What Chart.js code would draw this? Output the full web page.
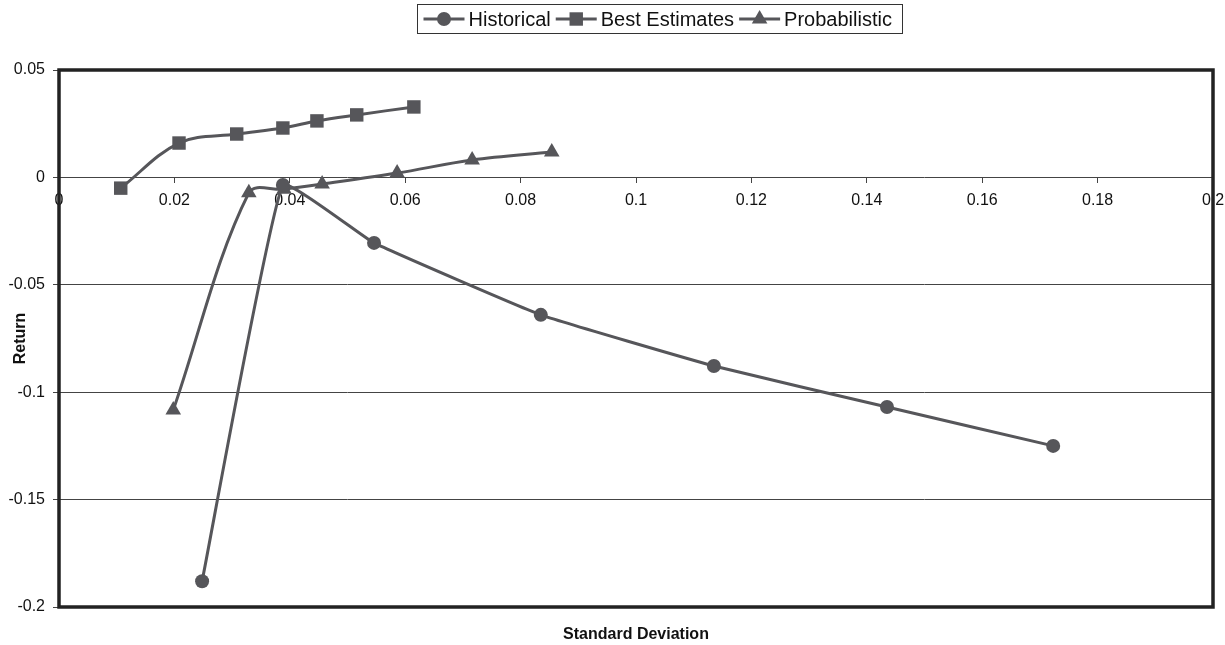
<!DOCTYPE html>
<html>
<head>
<meta charset="utf-8">
<title>Return vs Standard Deviation</title>
<script src="https://cdn.jsdelivr.net/npm/chart.js@4.4.1/dist/chart.umd.min.js"></script>
<style>
  html, body { margin: 0; padding: 0; background: #fff; }
</style>
</head>
<body>
<canvas id="chart" width="1225" height="645"></canvas>
<script>
// values (x = standard deviation, y = return)
const historicalSd = [0.0248, 0.0388, 0.0546, 0.0835, 0.1135, 0.1435, 0.1723];
const historicalRet = [-0.188, -0.0035, -0.0305, -0.064, -0.0878, -0.1069, -0.125];

const bestSd = [0.0107, 0.0208, 0.0308, 0.0388, 0.0447, 0.0516, 0.0615];
const bestRet = [-0.005, 0.016, 0.0202, 0.023, 0.0263, 0.0291, 0.0328];

const probSd = [0.0198, 0.0329, 0.039, 0.0456, 0.0586, 0.0716, 0.0854];
const probRet = [-0.1083, -0.0072, -0.0055, -0.0031, 0.002, 0.0081, 0.0118];

const seriesNames = ['Historical', 'Best Estimates', 'Probabilistic'];
const xTicksRange = [0, 0.2, 0.02];
const yTicksRange = [-0.2, 0.05, 0.05];

const FONT = 'Arial, "Liberation Sans", sans-serif';
const ink = '#56565a';

const toPoints = (xs, ys) => xs.map((x, i) => ({ x: x, y: ys[i] }));
const fmt = v => String(Number(v.toFixed(3)));

const makeSeries = (label, xs, ys, style, radius, tension) => ({
    label: label,
    data: toPoints(xs, ys),
    showLine: true,
    tension: tension,
    borderColor: ink,
    borderWidth: 3,
    backgroundColor: ink,
    pointStyle: style,
    pointRadius: radius,
    pointHoverRadius: radius,
    pointBorderWidth: 0
});

// box around the plot and the boxed legend on top
const frameAndLegend = {
    id: 'frameAndLegend',
    afterDraw(chart) {
        const ctx = chart.ctx;
        const a = chart.chartArea;
        ctx.save();
        ctx.strokeStyle = '#222';
        ctx.lineWidth = 3.5;
        ctx.strokeRect(a.left, a.top, a.right - a.left, a.bottom - a.top);

        const sets = chart.data.datasets;
        ctx.font = '20px ' + FONT;
        const lineLen = 41, gap = 4, itemGap = 5, padL = 6, padR = 11;
        const widths = sets.map(ds => ctx.measureText(ds.label).width);
        let total = padL + padR + itemGap * (sets.length - 1);
        widths.forEach(w => { total += lineLen + gap + w; });
        const boxX = Math.round(660 - total / 2) + 0.5;
        const boxY = 4.5, boxH = 29;
        ctx.lineWidth = 1;
        ctx.strokeStyle = '#333';
        ctx.strokeRect(boxX, boxY, Math.round(total), boxH);

        let x = boxX + padL;
        const cy = boxY + boxH / 2;
        sets.forEach((ds, i) => {
            ctx.strokeStyle = ink;
            ctx.fillStyle = ink;
            ctx.lineWidth = 3;
            ctx.beginPath();
            ctx.moveTo(x, cy);
            ctx.lineTo(x + lineLen, cy);
            ctx.stroke();
            Chart.helpers.drawPoint(ctx, {
                pointStyle: ds.pointStyle, radius: ds.pointRadius, rotation: 0, borderWidth: 0
            }, x + lineLen / 2, cy);
            x += lineLen + gap;
            ctx.fillStyle = '#111';
            ctx.textBaseline = 'middle';
            ctx.textAlign = 'left';
            ctx.fillText(ds.label, x, cy + 1);
            x += widths[i] + itemGap;
        });
        ctx.restore();
    }
};

const ctx = document.getElementById('chart').getContext('2d');
new Chart(ctx, {
    type: 'scatter',
    data: {
        datasets: [
            makeSeries(seriesNames[0], historicalSd, historicalRet, 'circle', 7, 0.1),
            makeSeries(seriesNames[1], bestSd, bestRet, 'rect', 9.5, 0.35),
            makeSeries(seriesNames[2], probSd, probRet, 'triangle', 9, 0.35)
        ]
    },
    options: {
        responsive: false,
        animation: false,
        layout: { padding: { top: 70, right: 12, bottom: 0, left: 0 } },
        plugins: {
            legend: { display: false },
            tooltip: { enabled: false }
        },
        scales: {
            x: {
                type: 'linear',
                position: { y: 0 },
                min: xTicksRange[0],
                max: xTicksRange[1],
                afterFit: s => {
                    s.height = 0;
                    s.paddingLeft = 0;
                    s.paddingRight = 0;
                },
                ticks: {
                    stepSize: xTicksRange[2],
                    padding: 8,
                    color: '#111',
                    font: { family: FONT, size: 16 },
                    maxRotation: 0,
                    autoSkip: false,
                    callback: v => fmt(v)
                },
                grid: { drawOnChartArea: false, drawTicks: true, tickLength: 6, color: '#444' },
                border: { display: false }
            },
            xTitle: {
                type: 'linear',
                axis: 'x',
                position: 'bottom',
                min: xTicksRange[0],
                max: xTicksRange[1],
                afterFit: s => { s.height = 38; },
                ticks: { display: false },
                grid: { display: false, drawTicks: false },
                border: { display: false },
                title: {
                    display: true,
                    text: 'Standard Deviation',
                    color: '#111',
                    font: { family: FONT, size: 16, weight: 'bold' },
                    padding: { top: 0, bottom: 1 }
                }
            },
            y: {
                type: 'linear',
                min: yTicksRange[0],
                max: yTicksRange[1],
                afterFit: s => { s.width = 59; },
                ticks: {
                    stepSize: yTicksRange[2],
                    padding: 8,
                    color: '#111',
                    font: { family: FONT, size: 16 },
                    callback: v => fmt(v)
                },
                grid: { color: '#444', lineWidth: 1, tickLength: 6 },
                border: { display: false },
                title: {
                    display: true,
                    text: 'Return',
                    color: '#111',
                    font: { family: FONT, size: 16, weight: 'bold' },
                    padding: { top: 11, bottom: 0 }
                }
            }
        }
    },
    plugins: [frameAndLegend]
});
</script>
</body>
</html>
